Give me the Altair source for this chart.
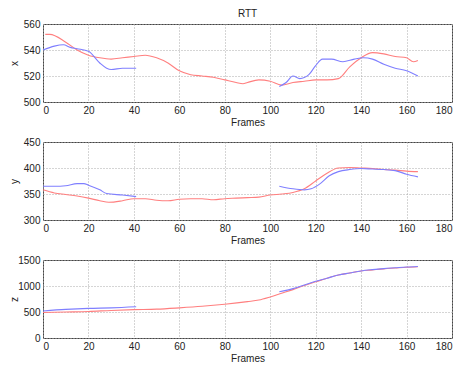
import altair as alt
import pandas as pd

# ---- data ----
red_x_f = [1, 3, 10, 15, 20, 25, 30, 35, 40, 45, 50, 55, 60, 65, 70, 75, 80, 85, 88, 90, 95, 100, 105, 110, 115, 120, 125, 130, 135, 140, 145, 150, 155, 160, 163, 165]
red_x_v = [552, 552, 546, 540, 536, 534, 533, 534, 535, 536, 534, 530, 524, 521, 520, 519, 517, 515, 514, 515, 517, 516, 513, 515, 516, 517, 517, 518, 527, 534, 538, 537, 535, 534, 531, 532]
blue_x_f1 = [0, 5, 9, 12, 15, 20, 25, 28, 30, 35, 41]
blue_x_v1 = [540, 543, 544, 542, 541, 539, 530, 526, 525, 526, 526]
blue_x_f2 = [104, 107, 110, 113, 117, 120, 123, 127, 132, 137, 141, 145, 150, 155, 160, 165]
blue_x_v2 = [512, 515, 520, 518, 521, 528, 533, 533, 531, 533, 534, 533, 529, 526, 524, 520]

red_y_f = [0, 5, 10, 15, 20, 25, 29, 35, 40, 45, 50, 55, 60, 65, 70, 75, 80, 85, 90, 95, 100, 105, 110, 115, 120, 125, 130, 135, 140, 145, 150, 155, 160, 165]
red_y_v = [358, 352, 349, 346, 342, 337, 334, 337, 341, 341, 338, 337, 340, 341, 341, 339, 341, 342, 343, 344, 348, 350, 353, 360, 375, 390, 400, 401, 400, 399, 397, 396, 394, 393]
blue_y_f1 = [0, 5, 10, 15, 18, 20, 25, 28, 35, 41]
blue_y_v1 = [365, 365, 366, 370, 370, 367, 358, 351, 348, 345]
blue_y_f2 = [104, 110, 115, 118, 122, 126, 130, 135, 140, 145, 150, 155, 160, 165]
blue_y_v2 = [365, 360, 358, 360, 370, 385, 393, 397, 399, 398, 397, 395, 388, 383]

red_z_f = [0, 10, 20, 30, 40, 50, 60, 70, 80, 90, 95, 100, 105, 110, 115, 120, 125, 130, 135, 140, 145, 150, 155, 160, 165]
red_z_v = [490, 500, 510, 530, 545, 555, 580, 610, 650, 700, 730, 790, 860, 930, 1010, 1080, 1150, 1210, 1250, 1290, 1310, 1330, 1345, 1360, 1370]
blue_z_f1 = [0, 10, 20, 30, 41]
blue_z_v1 = [520, 550, 570, 580, 600]
blue_z_f2 = [104, 110, 115, 120, 125, 130, 135, 140, 145, 150, 155, 160, 165]
blue_z_v2 = [890, 950, 1020, 1090, 1150, 1210, 1250, 1290, 1315, 1335, 1350, 1365, 1375]

x_ticks = [0, 20, 40, 60, 80, 100, 120, 140, 160, 180]

RED = "#ff7f7f"
BLUE = "#7f7fff"
FONT = "Liberation Sans"
W, H = 409, 78


def frame(rf, rv, bf1, bv1, bf2, bv2):
    rows = []
    for f, v in zip(rf, rv):
        rows.append({"f": f, "v": v, "s": "red"})
    for f, v in zip(bf1, bv1):
        rows.append({"f": f, "v": v, "s": "blue1"})
    for f, v in zip(bf2, bv2):
        rows.append({"f": f, "v": v, "s": "blue2"})
    return pd.DataFrame(rows)


def panel(df, ylabel, ydom, yticks, title=None):
    c = alt.Chart(df).mark_line(strokeWidth=1.1, interpolate="monotone").encode(
        x=alt.X("f:Q", scale=alt.Scale(domain=[0, 180], nice=False),
                axis=alt.Axis(values=x_ticks, title="Frames", grid=True,
                              gridDash=[1, 2], gridColor="#aaa", domain=False,
                              ticks=False, labelPadding=3, titlePadding=2)),
        y=alt.Y("v:Q", scale=alt.Scale(domain=ydom, nice=False),
                axis=alt.Axis(values=yticks, title=ylabel, grid=True, format="d",
                              gridDash=[1, 2], gridColor="#aaa", domain=False,
                              ticks=False, labelPadding=3,
                              titleX=-24, titleY=H / 2, titleAngle=270,
                              titleAlign="center", titleBaseline="bottom")),
        color=alt.Color("s:N", scale=alt.Scale(domain=["red", "blue1", "blue2"],
                                               range=[RED, BLUE, BLUE]), legend=None),
        detail="s:N",
    ).properties(width=W, height=H)
    if title:
        c = c.properties(title=alt.TitleParams(title, fontSize=10, fontWeight="normal",
                                                font=FONT, anchor="middle", offset=0,
                                                color="#222"))
    return c


p1 = panel(frame(red_x_f, red_x_v, blue_x_f1, blue_x_v1, blue_x_f2, blue_x_v2),
           "x", [500, 560], [500, 520, 540, 560], title="RTT")
p2 = panel(frame(red_y_f, red_y_v, blue_y_f1, blue_y_v1, blue_y_f2, blue_y_v2),
           "y", [300, 450], [300, 350, 400, 450])
p3 = panel(frame(red_z_f, red_z_v, blue_z_f1, blue_z_v1, blue_z_f2, blue_z_v2),
           "z", [0, 1500], [0, 500, 1000, 1500])

chart = alt.vconcat(p1, p2, p3, spacing=8).configure_view(
    stroke="#444", strokeWidth=1
).configure_axis(
    labelFont=FONT, titleFont=FONT, labelFontSize=10, titleFontSize=10,
    labelColor="#222", titleColor="#222", titleFontWeight="normal"
).properties(padding={"left": 0, "top": 0, "right": 0, "bottom": 0}, background="white")

chart.save("out.html", embed_options={"renderer": "svg", "actions": False})
